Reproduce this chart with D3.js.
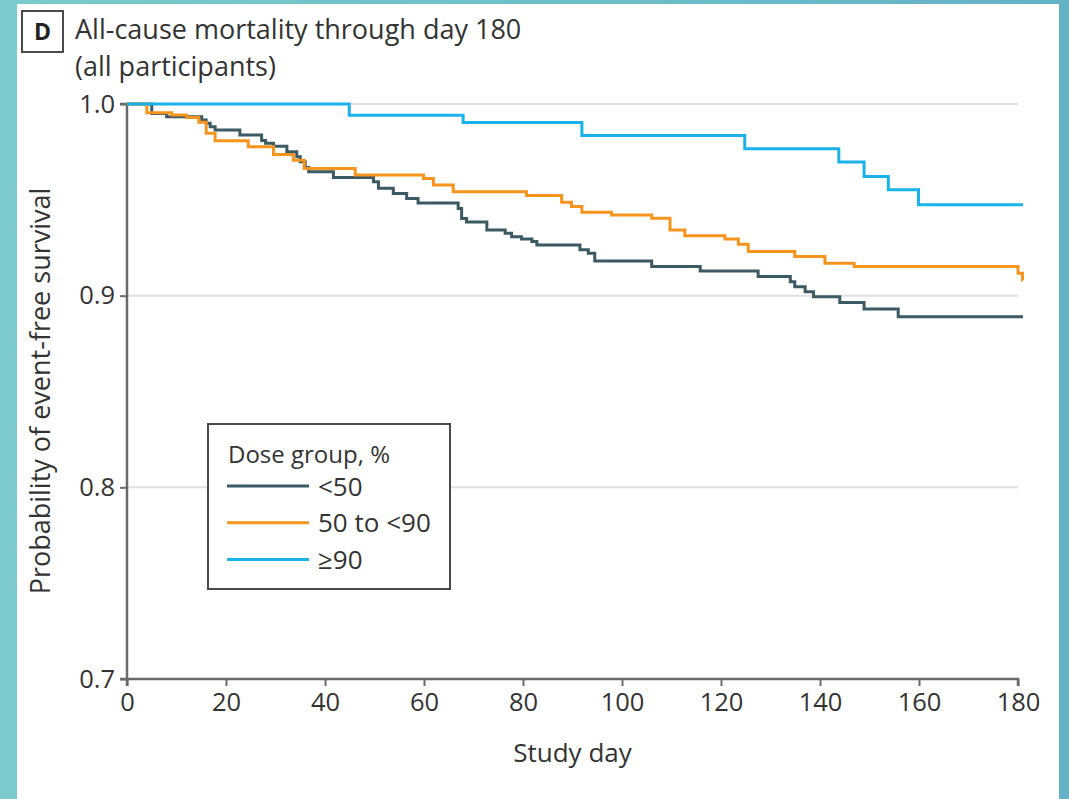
<!DOCTYPE html>
<html><head><meta charset="utf-8">
<script src="https://cdn.jsdelivr.net/npm/d3@7"></script>
<style>
html,body{margin:0;padding:0;background:#fff;overflow:hidden;}
svg{display:block;font-family:"Open Sans",sans-serif;}
</style>
</head><body>
<svg id="chart" width="1069" height="799"></svg>
<script>
// ---- data ----
const xTickValues = [0, 20, 40, 60, 80, 100, 120, 140, 160, 180];
const yTickValues = [0.7, 0.8, 0.9, 1.0];
const yTickLabels = ["0.7", "0.8", "0.9", "1.0"];
const groupNames = ["<50", "50 to <90", "\u226590"];
const groupColors = ["#3b5a63", "#f7941d", "#19b2ea"];

const daysLow = [0, 5.0, 8.0, 15.1, 16.0, 16.8, 17.8, 22.8, 27.2, 28.0, 29.6, 32.3, 34.3, 35.0, 36.0, 36.7, 41.7, 49.8, 50.8, 53.8, 56.5, 58.8, 66.9, 67.6, 68.6, 72.7, 76.4, 77.7, 79.7, 81.8, 82.8, 91.5, 93.2, 94.5, 106.0, 115.8, 127.5, 134.0, 134.9, 137.0, 138.7, 144.0, 148.9, 155.8, 181];
const survLow = [1.0, 0.995, 0.9934, 0.9916, 0.9899, 0.9881, 0.9864, 0.9838, 0.981, 0.9795, 0.978, 0.9751, 0.9725, 0.9699, 0.9669, 0.9646, 0.9617, 0.9594, 0.956, 0.9533, 0.9507, 0.9484, 0.9455, 0.9402, 0.9385, 0.9343, 0.9326, 0.9308, 0.9296, 0.9282, 0.9265, 0.9239, 0.9221, 0.9181, 0.9152, 0.9129, 0.91, 0.9073, 0.9047, 0.9021, 0.8995, 0.8965, 0.893, 0.889, 0.889];

const daysMid = [0, 4.0, 9.0, 12.0, 14.5, 16.0, 17.8, 24.5, 29.6, 33.6, 35.8, 46.1, 59.9, 61.9, 65.9, 80.7, 87.8, 89.8, 91.9, 97.9, 106.0, 109.7, 112.7, 120.8, 123.5, 125.5, 134.9, 141.0, 146.9, 180.0, 180.9, 181];
const survMid = [1.0, 0.9955, 0.9942, 0.993, 0.9905, 0.9847, 0.9808, 0.9777, 0.9737, 0.9707, 0.9664, 0.9629, 0.9611, 0.9577, 0.9542, 0.9523, 0.9488, 0.9465, 0.9435, 0.9421, 0.9404, 0.9343, 0.9312, 0.9296, 0.9268, 0.923, 0.9204, 0.9169, 0.9152, 0.9117, 0.9082, 0.9082];

const daysHigh = [0, 44.9, 67.9, 91.9, 124.8, 143.8, 148.9, 153.8, 159.9, 181];
const survHigh = [1.0, 0.9941, 0.9904, 0.9836, 0.9767, 0.9697, 0.9622, 0.9552, 0.9474, 0.9474];

const seriesDays = [daysLow, daysMid, daysHigh];
const seriesSurv = [survLow, survMid, survHigh];

// ---- layout ----
const svg = d3.select("#chart");
const W = 1069, H = 799;
const plot = {left: 127, right: 1018, top: 104, bottom: 679};
const textColor = "#333333";

const defs = svg.append("defs");
const grad = defs.append("linearGradient").attr("id", "bg").attr("x1", "0").attr("y1", "0").attr("x2", "1").attr("y2", "0");
grad.append("stop").attr("offset", "0%").attr("stop-color", "#7bcacc");
grad.append("stop").attr("offset", "50%").attr("stop-color", "#6fbfc9");
grad.append("stop").attr("offset", "100%").attr("stop-color", "#64b2c5");
svg.append("rect").attr("width", W).attr("height", H).attr("fill", "url(#bg)");
svg.append("rect").attr("x", 17).attr("y", 4).attr("width", 1042).attr("height", H).attr("fill", "#ffffff");

const x = d3.scaleLinear().domain([0, 180]).range([plot.left, plot.right]);
const y = d3.scaleLinear().domain([0.7, 1.0]).range([plot.bottom, plot.top]);

// gridlines
svg.append("g").selectAll("line").data(yTickValues.filter(v => v > 0.7)).join("line")
  .attr("x1", x(0)).attr("x2", x(180))
  .attr("y1", d => y(d)).attr("y2", d => y(d))
  .attr("stroke", "#e0e0e0").attr("stroke-width", 2);

// axes
const yAxis = d3.axisLeft(y).tickValues(yTickValues).tickFormat((d, i) => yTickLabels[i]).tickSize(7).tickPadding(5);
const gy = svg.append("g").attr("transform", `translate(${plot.left},0)`).call(yAxis);
const xAxis = d3.axisBottom(x).tickValues(xTickValues).tickFormat(d3.format("d")).tickSize(7).tickPadding(7);
const gx = svg.append("g").attr("transform", `translate(0,${plot.bottom})`).call(xAxis);
[gx, gy].forEach(g => {
  g.select(".domain").attr("stroke", "#6a6a6a").attr("stroke-width", 2.5);
  g.selectAll(".tick line").attr("stroke", "#6a6a6a").attr("stroke-width", 2);
  g.selectAll(".tick text").attr("fill", textColor).style("font-size", "25.5px").style("font-family", "'Open Sans',sans-serif");
});
gy.select(".domain").attr("d", `M-7,${y(1.0)}H0V${y(0.7)}H-7`);
gx.select(".domain").attr("d", `M${x(0)},7V0H${x(180)}V7`);

// curves
const line = d3.line().x(d => x(d[0])).y(d => y(d[1])).curve(d3.curveStepAfter);
seriesDays.forEach((days, i) => {
  const pts = days.map((dd, j) => [dd, seriesSurv[i][j]]);
  svg.append("path").datum(pts).attr("d", line)
    .attr("fill", "none").attr("stroke", groupColors[i]).attr("stroke-width", 3);
});

// axis titles
svg.append("text").attr("x", x(90)).attr("y", 762).attr("text-anchor", "middle")
  .attr("fill", textColor).style("font-size", "26px").text("Study day");
svg.append("text").attr("transform", `translate(50,391) rotate(-90)`).attr("text-anchor", "middle")
  .attr("fill", textColor).style("font-size", "27px").text("Probability of event-free survival");

// title
svg.append("rect").attr("x", 22).attr("y", 11).attr("width", 41).attr("height", 41)
  .attr("fill", "#fff").attr("stroke", "#4a4a4a").attr("stroke-width", 2);
svg.append("text").attr("x", 42.5).attr("y", 40).attr("text-anchor", "middle")
  .attr("fill", "#222").style("font-size", "23px").style("font-weight", "700").text("D");
svg.append("text").attr("x", 75).attr("y", 39).attr("fill", textColor).style("font-size", "27px")
  .text("All-cause mortality through day 180");
svg.append("text").attr("x", 75).attr("y", 76).attr("fill", textColor).style("font-size", "27px")
  .text("(all participants)");

// legend
const lg = svg.append("g");
lg.append("rect").attr("x", 208).attr("y", 424).attr("width", 242).attr("height", 165)
  .attr("fill", "#fff").attr("stroke", "#4a4a4a").attr("stroke-width", 2);
lg.append("text").attr("x", 228).attr("y", 463).attr("fill", textColor).style("font-size", "24px").text("Dose group, %");
groupNames.forEach((name, i) => {
  const yy = 486 + i * 36.8;
  lg.append("line").attr("x1", 227).attr("x2", 309).attr("y1", yy).attr("y2", yy)
    .attr("stroke", groupColors[i]).attr("stroke-width", 3);
  lg.append("text").attr("x", 318).attr("y", yy + 9.5).attr("fill", textColor).style("font-size", "26px").text(name);
});
</script>
</body></html>
